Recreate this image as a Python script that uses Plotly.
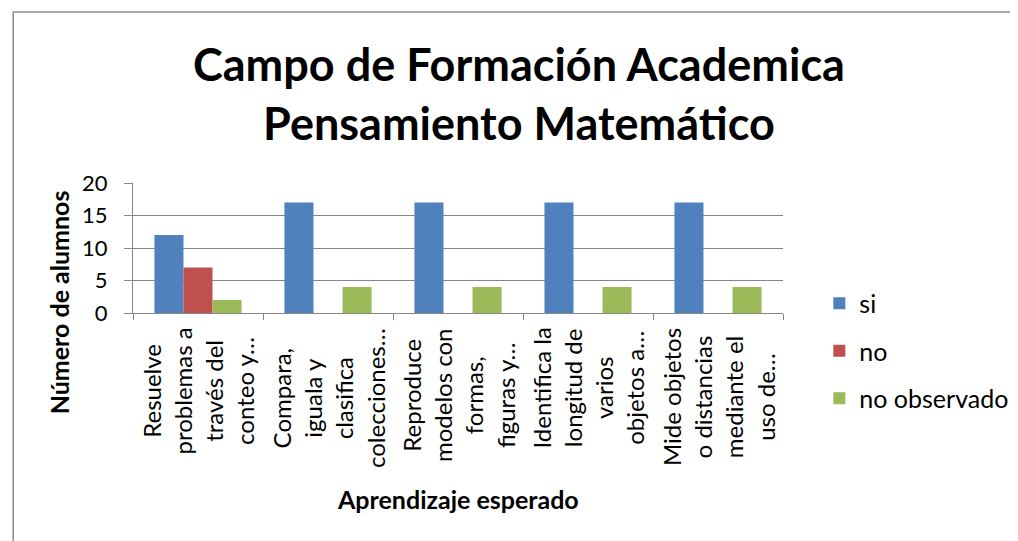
import plotly.graph_objects as go

categories = ["c1", "c2", "c3", "c4", "c5"]
category_labels = [
    "Resuelve<br>problemas a<br>través del<br>conteo y…",
    "Compara,<br>iguala y<br>clasifica<br>colecciones…",
    "Reproduce<br>modelos con<br>formas,<br>figuras y…",
    "Identifica la<br>longitud de<br>varios<br>objetos a…",
    "Mide objetos<br>o distancias<br>mediante el<br>uso de…",
]
series_names = ["si", "no", "no observado"]
si_values = [12, 17, 17, 17, 17]
no_values = [7, 0, 0, 0, 0]
no_obs_values = [2, 4, 4, 4, 4]
colors = ["#4F81BD", "#C0504D", "#9BBB59"]
y_ticks = [0, 5, 10, 15, 20]

OFF = 8  # page body margin
W, H = 1018, 541
L, R, T, B = 133 - OFF, 795 - OFF, 183 - OFF, 313 - OFF
pw, ph = R - L, B - T

def px(x):
    return (x - OFF - L) / pw

def py(y):
    return (B - (y - OFF)) / ph

FONT = "Lato"
fig = go.Figure()
for i, (name, vals) in enumerate(zip(series_names, [si_values, no_values, no_obs_values])):
    fig.add_trace(go.Bar(x=categories, y=vals, name=name, marker_color=colors[i],
                         marker_line_width=0, legendgroup=name))

fig.update_layout(
    width=W, height=H,
    margin=dict(l=L, r=W - R, t=T, b=H - B, pad=0),
    paper_bgcolor="white", plot_bgcolor="white",
    barmode="group", bargap=0.33, bargroupgap=0,
    font=dict(family=FONT, color="black"),
    legend=dict(x=px(832), xanchor="left", y=py(351), yanchor="middle",
                font=dict(size=25, family=FONT), traceorder="grouped",
                tracegroupgap=12, bgcolor="rgba(0,0,0,0)"),
    showlegend=True,
)
fig.update_yaxes(range=[0, 20], tickvals=y_ticks, showgrid=True, gridcolor="#878787",
                 gridwidth=1, showline=True, linecolor="#878787", linewidth=1,
                 ticks="outside", ticklen=8, tickcolor="#878787", ticklabelstandoff=12,
                 tickfont=dict(size=22, family=FONT), zeroline=False)
fig.update_xaxes(showticklabels=False, showline=True, linecolor="#878787", linewidth=1,
                 ticks="outside", tickson="boundaries", ticklen=6, tickcolor="#878787",
                 showgrid=False, range=[-0.5, 4.5], mirror=False)

fig.add_annotation(x=px(526), xref="paper", y=py(93), yref="paper",
                   text="<b>Campo de Formación Academica<br>Pensamiento Matemático</b>",
                   showarrow=False, xanchor="center", yanchor="middle", align="center",
                   font=dict(size=45, family=FONT))

for cat, lab in zip(categories, category_labels):
    fig.add_annotation(x=cat, xref="x", y=py(326), yref="paper", text=lab,
                       textangle=-90, showarrow=False, xanchor="center", yanchor="top",
                       align="center", font=dict(size=24, family=FONT))

fig.add_annotation(x=px(58), xref="paper", y=py(302), yref="paper",
                   text="<b>Número de alumnos</b>", textangle=-90, showarrow=False,
                   xanchor="center", yanchor="middle", font=dict(size=25, family=FONT))
fig.add_annotation(x=px(464), xref="paper", y=py(499), yref="paper",
                   text="<b>Aprendizaje esperado</b>", showarrow=False,
                   xanchor="center", yanchor="middle", font=dict(size=25, family=FONT))

fig.add_shape(type="rect", xref="paper", yref="paper",
              x0=px(11), x1=px(1040), y0=py(570), y1=py(12),
              line=dict(color="#8C8C8C", width=1.5), fillcolor="rgba(0,0,0,0)", layer="below")

fig.write_html("out.html")
